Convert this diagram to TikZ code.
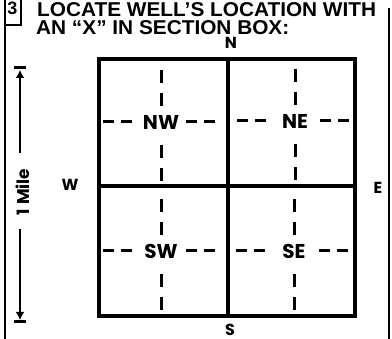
\documentclass[tikz,border=0pt]{standalone}
\usepackage{fontspec}
\usetikzlibrary{arrows.meta,calc}
\newfontfamily\hdrfont{Liberation Sans}
\newfontfamily\geofont{Poppins}
\begin{document}
\begin{tikzpicture}[x=1pt,y=-1pt,
  frame/.style={line width=2pt},
  sect/.style={line width=3.6pt},
  hdsh/.style={line width=3pt, dash pattern=on 11pt off 7pt},
  vdsh/.style={line width=3pt, dash pattern=on 13pt off 10pt},
  quad/.style={font=\geofont\bfseries\fontsize{20}{20}\selectfont, inner sep=0pt},
  dir/.style={font=\geofont\bfseries\fontsize{16}{16}\selectfont, inner sep=0pt},
  hdr/.style={font=\hdrfont\bfseries\fontsize{20}{20}\selectfont, inner sep=0pt, anchor=base west},
  mile/.style={line width=2.8pt}]
\useasboundingbox (0,0) rectangle (392,339);
% frame
\draw[frame] (4.5,0) -- (4.5,339);
\draw[frame] (389,8) -- (389,339);
\draw[frame] (21,0) -- (21,25) -- (4.5,25);
\node[font=\hdrfont\bfseries\fontsize{18}{18}\selectfont, inner sep=0pt] (num) at (12.5,8.5) {3};
% header
\node[hdr] (h1) at (37,17) {\scalebox{1.04}[1]{LOCATE WELL’S LOCATION WITH}};
\node[hdr] (h2) at (36,35) {\scalebox{1.04}[1]{AN “X” IN SECTION BOX:}};
% section box
\coordinate (tl) at (99,59); \coordinate (br) at (355,316);
\coordinate (tm) at (228,59); \coordinate (bm) at (228,316);
\coordinate (lm) at (99,186); \coordinate (rm) at (355,186);
\draw[sect] (tl) rectangle (br);
\draw[sect] (tm) -- (bm);
\draw[sect] (lm) -- (rm);
% quadrants
\foreach \q/\t/\x/\y in {nw/NW/161/122, ne/NE/295/121, sw/SW/161/251, se/SE/294/251}{
  \node[quad] (\q) at (\x,\y) {\t};
  \draw[hdsh] ($(\q)+(-58,0)$) -- ($(\q)+(-29,0)$);
  \draw[hdsh] ($(\q)+(54,0)$) -- ($(\q)+(25,0)$);
  \draw[vdsh] ($(\q)+(0,-52)$) -- ($(\q)+(0,-16)$);
  \draw[vdsh] ($(\q)+(0,59)$) -- ($(\q)+(0,22)$);
}
% directions
\node[dir] (n) at (231,42.5) {N};
\node[dir] (w) at (70,185) {W};
\node[dir] (e) at (378,188) {E};
\node[dir] (s) at (230,329.5) {S};
% 1 mile
\node[font=\geofont\bfseries\fontsize{17}{17}\selectfont, inner sep=0pt, rotate=90] (mi) at (23,192) {1\hspace{4pt}Mile};
\coordinate (mt) at (20,68); \coordinate (mb) at (20,322);
\draw[mile, -{Latex[length=8pt,width=9pt]}] (20,153) -- ($(mt)+(0,2)$);
\draw[mile, -{Latex[length=8pt,width=9pt]}] (20,229) -- ($(mb)+(0,-2)$);
\draw[line width=3pt] ($(mt)+(-6,0)$) -- ($(mt)+(6,0)$);
\draw[line width=3pt] ($(mb)+(-6,0)$) -- ($(mb)+(6,0)$);
\end{tikzpicture}
\end{document}
